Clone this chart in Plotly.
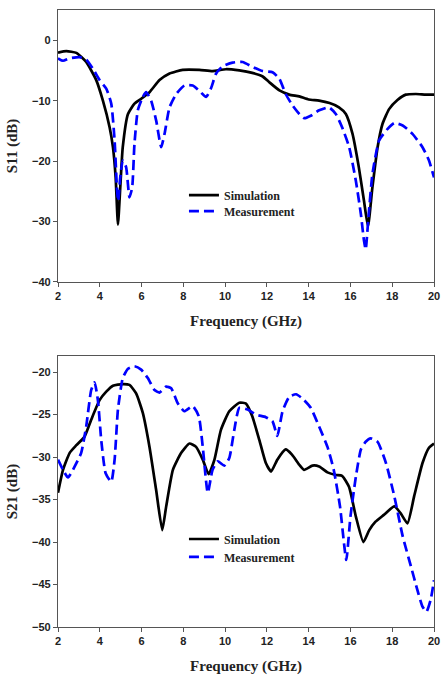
import plotly.graph_objects as go

# S11 simulation (GHz, dB)
s11_sim_f = [2.0, 2.4, 2.88, 3.35, 3.83, 4.15, 4.47, 4.63, 4.76, 4.87, 4.98, 5.1, 5.35, 5.66,
             5.98, 6.38, 6.86, 7.34, 7.97, 8.77, 9.4, 10.04, 10.68, 11.3, 11.8, 12.1, 12.6,
             13.07, 13.55, 14.0, 14.5, 15.0, 15.45, 15.78, 16.1, 16.4, 16.65, 16.84, 17.05,
             17.3, 17.53, 17.85, 18.25, 18.65, 19.13, 19.6, 20.0]
s11_sim_db = [-2.05, -1.8, -2.1, -3.6, -6.6, -10.0, -14.4, -17.7, -22.7, -30.5, -24.4, -17.7,
              -12.2, -10.5, -9.7, -8.6, -6.6, -5.5, -4.9, -4.9, -5.1, -4.8, -5.0, -5.4, -6.0,
              -6.9, -8.3, -9.0, -9.3, -9.8, -10.0, -10.4, -11.1, -12.2, -15.5, -21.0, -26.6,
              -30.8, -24.4, -17.7, -13.9, -11.4, -9.9, -9.0, -8.9, -9.0, -9.0]

# S11 measurement (GHz, dB)
s11_meas_f = [2.0, 2.24, 2.56, 3.03, 3.35, 3.67, 3.99, 4.31, 4.55, 4.71, 4.82, 4.88, 4.98, 5.1,
              5.26, 5.42, 5.55, 5.66, 5.82, 6.06, 6.22, 6.46, 6.7, 6.94, 7.1, 7.34, 7.66, 8.05,
              8.45, 8.77, 9.09, 9.33, 9.57, 9.88, 10.36, 10.84, 11.3, 11.8, 12.27, 12.6, 12.9,
              13.23, 13.55, 13.79, 14.1, 14.5, 14.97, 15.3, 15.6, 15.94, 16.26, 16.5, 16.65,
              16.73, 16.86, 17.05, 17.37, 17.77, 18.1, 18.5, 18.97, 19.45, 19.76, 20.0]
s11_meas_db = [-3.0, -3.4, -3.0, -2.8, -3.2, -4.7, -6.6, -8.0, -10.5, -16.6, -24.4, -26.6, -22.7,
               -19.9, -21.0, -26.0, -24.4, -17.2, -11.6, -9.4, -8.6, -10.0, -13.3, -17.7, -15.5,
               -11.1, -8.9, -7.5, -7.5, -8.4, -9.4, -7.9, -5.5, -4.3, -3.7, -3.6, -4.4, -5.1,
               -5.3, -6.4, -8.9, -10.8, -12.2, -12.9, -12.5, -11.6, -11.1, -12.2, -14.4, -17.7,
               -23.3, -28.8, -33.2, -34.6, -29.4, -22.2, -16.6, -14.7, -13.7, -14.1, -15.5,
               -17.7, -19.9, -22.7]

# S21 simulation (GHz, dB)
s21_sim_f = [2.0, 2.24, 2.56, 2.88, 3.27, 3.59, 3.99, 4.31, 4.63, 5.1, 5.42, 5.74, 6.06, 6.38,
             6.7, 6.99, 7.18, 7.5, 7.9, 8.29, 8.61, 8.93, 9.21, 9.49, 9.8, 10.2, 10.68, 11.0,
             11.3, 11.64, 11.95, 12.2, 12.5, 12.9, 13.2, 13.55, 13.78, 14.18, 14.5, 14.9, 15.3,
             15.6, 15.93, 16.26, 16.62, 16.9, 17.2, 17.6, 18.1, 18.4, 18.73, 19.05, 19.45,
             19.76, 20.0]
s21_sim_db = [-34.2, -31.5, -29.5, -28.6, -27.6, -25.6, -23.3, -22.3, -21.6, -21.4, -21.5,
              -22.5, -24.8, -28.8, -33.9, -38.6, -35.8, -31.5, -29.5, -28.4, -28.8, -30.3,
              -32.0, -30.3, -26.8, -24.6, -23.6, -23.7, -25.2, -28.0, -30.7, -31.7, -30.3,
              -29.1, -29.7, -30.9, -31.5, -31.0, -31.1, -31.8, -32.1, -32.2, -33.5, -37.0,
              -40.0, -38.6, -37.6, -36.8, -35.8, -36.6, -37.8, -34.6, -30.7, -28.9, -28.4]

# S21 measurement (GHz, dB)
s21_meas_f = [2.0, 2.24, 2.48, 2.8, 3.11, 3.35, 3.59, 3.75, 3.91, 4.07, 4.28, 4.55, 4.71, 4.87,
              5.1, 5.35, 5.66, 5.98, 6.3, 6.62, 6.86, 7.18, 7.42, 7.74, 8.05, 8.45, 8.74, 8.93,
              9.17, 9.4, 9.65, 9.96, 10.2, 10.44, 10.68, 11.08, 11.47, 11.95, 12.27, 12.5,
              12.75, 13.07, 13.4, 13.7, 14.1, 14.5, 14.9, 15.2, 15.5, 15.8, 16.0, 16.26, 16.5,
              16.73, 16.97, 17.3, 17.7, 18.1, 18.5, 18.9, 19.2, 19.45, 19.64, 19.84, 20.0]
s21_meas_db = [-30.3, -31.5, -32.4, -31.1, -29.5, -26.4, -22.1, -21.2, -23.3, -28.0, -31.9,
               -32.9, -30.3, -24.4, -20.7, -19.6, -19.3, -19.7, -20.7, -22.1, -22.4, -21.7,
               -21.9, -23.7, -24.6, -24.0, -25.2, -28.8, -34.2, -31.5, -30.5, -31.0, -30.1,
               -26.8, -24.2, -24.4, -25.0, -25.3, -25.8, -27.5, -24.6, -22.9, -22.6, -23.1,
               -24.2, -26.4, -28.8, -31.5, -35.8, -42.1, -37.0, -32.3, -29.1, -28.2, -27.8,
               -28.2, -30.7, -34.6, -39.3, -42.9, -45.6, -47.6, -48.2, -46.8, -44.5]

freq_ticks = [2, 4, 6, 8, 10, 12, 14, 16, 18, 20]
s11_ticks = [0, -10, -20, -30, -40]
s21_ticks = [-20, -25, -30, -35, -40, -45, -50]

SERIF = "Liberation Serif, Times New Roman, serif"
SANS = "Liberation Sans, Arial, sans-serif"
LW = 2.7

fig = go.Figure()


def add_pair(f_sim, y_sim, f_meas, y_meas, xa, ya, leg_sim, leg_meas):
    fig.add_trace(go.Scatter(x=f_sim, y=y_sim, mode="lines", name="Simulation",
                             line=dict(color="black", width=LW, shape="spline", smoothing=0.5),
                             xaxis=xa, yaxis=ya, legend=leg_sim))
    fig.add_trace(go.Scatter(x=f_meas, y=y_meas, mode="lines", name="Measurement",
                             line=dict(color="#0000ff", width=LW, dash="10px,5px",
                                       shape="spline", smoothing=0.5),
                             xaxis=xa, yaxis=ya, legend=leg_meas))


add_pair(s11_sim_f, s11_sim_db, s11_meas_f, s11_meas_db, "x", "y", "legend", "legend2")
add_pair(s21_sim_f, s21_sim_db, s21_meas_f, s21_meas_db, "x2", "y2", "legend3", "legend4")

axis_common = dict(
    showline=True, linecolor="#555555", linewidth=1.2, mirror=True,
    ticks="outside", ticklen=4, tickwidth=1, tickcolor="#555555",
    showgrid=False, zeroline=False, automargin=False, ticklabeloverflow="allow",
    tickfont=dict(family=SANS, size=11, color="#222222", weight="bold"),
)

title_font = dict(family=SERIF, size=15, color="#222222", weight="bold")
xtitle = dict(text="Frequency (GHz)", font=title_font, standoff=14)
legend_font = dict(family=SERIF, size=12, color="#222222", weight="bold")


def legend_at(y):
    return dict(x=0.335, y=y, xanchor="left", yanchor="middle",
                bgcolor="rgba(0,0,0,0)", font=legend_font)


fig.update_layout(
    width=441, height=675,
    margin=dict(l=58, r=7, t=10, b=48),
    paper_bgcolor="white", plot_bgcolor="white",
    xaxis=dict(domain=[0, 1], anchor="y", range=[2, 20], tickvals=freq_ticks,
               title=xtitle, **axis_common),
    yaxis=dict(domain=[0.5592, 1.0], anchor="x", range=[-40, 5], tickvals=s11_ticks,
               title=dict(text="S11 (dB)", font=title_font, standoff=10),
               **axis_common),
    xaxis2=dict(domain=[0, 1], anchor="y2", range=[2, 20], tickvals=freq_ticks,
                title=xtitle, **axis_common),
    yaxis2=dict(domain=[0, 0.4392], anchor="x2", range=[-50, -18.1], tickvals=s21_ticks,
                title=dict(text="S21 (dB)", font=title_font, standoff=10),
                **axis_common),
    legend=legend_at(0.700),
    legend2=legend_at(0.674),
    legend3=legend_at(0.1426),
    legend4=legend_at(0.1135),
    showlegend=True,
)

fig.write_html("out.html")
